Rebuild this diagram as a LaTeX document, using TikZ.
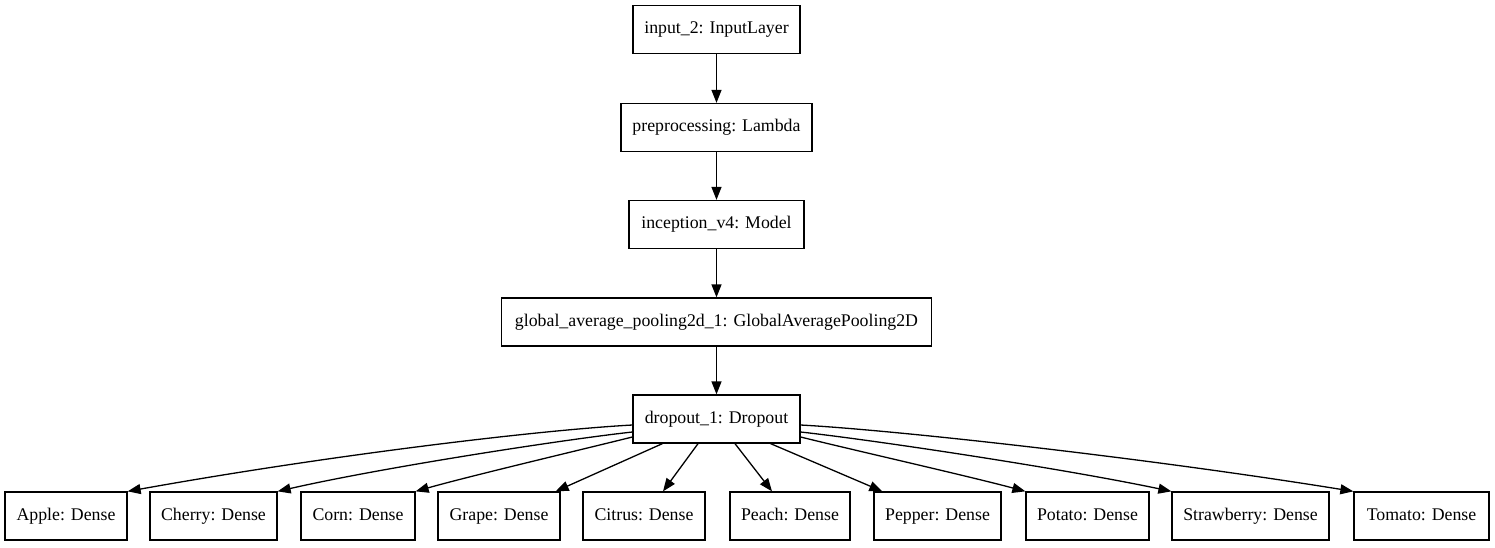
\documentclass[tikz,border=0pt]{standalone}
\usepackage{fontspec}
\setmainfont{Liberation Serif}
\usetikzlibrary{arrows.meta}
\begin{document}
\begin{tikzpicture}[x=1pt,y=-1pt,
  layer/.style={draw, line width=1.3pt, rectangle, minimum height=48pt, inner sep=0pt,
     text height=12.5pt, text depth=4pt,
     font=\fontsize{17.8}{20}\selectfont},
  conn/.style={line width=1.3pt, -{Triangle[length=13pt,width=10pt]}}]
\fill[white] (0,0) rectangle (1495,547);
\useasboundingbox (0,0) rectangle (1495,547);
\node[layer, minimum width=167pt] (inp) at (716.5,29.5) {input\_2: InputLayer};
\node[layer, minimum width=191pt] (pre) at (716.5,127.5) {preprocessing: Lambda};
\node[layer, minimum width=175pt] (inc) at (716.5,224.5) {inception\_v4: Model};
\node[layer, minimum width=430pt] (gap) at (716.5,322) {global\_average\_pooling2d\_1: GlobalAveragePooling2D};
\node[layer, minimum width=167pt] (drop) at (716.5,419) {dropout\_1: Dropout};
\node[layer, minimum width=122pt] (apple) at (66,516) {Apple: Dense};
\node[layer, minimum width=127pt] (cherry) at (213.5,516) {Cherry: Dense};
\node[layer, minimum width=114pt] (corn) at (358,516) {Corn: Dense};
\node[layer, minimum width=122pt] (grape) at (499,516) {Grape: Dense};
\node[layer, minimum width=122pt] (citrus) at (644,516) {Citrus: Dense};
\node[layer, minimum width=120pt] (peach) at (790,516) {Peach: Dense};
\node[layer, minimum width=127pt] (pepper) at (937.5,516) {Pepper: Dense};
\node[layer, minimum width=123pt] (potato) at (1087.5,516) {Potato: Dense};
\node[layer, minimum width=157pt] (straw) at (1250.5,516) {Strawberry: Dense};
\node[layer, minimum width=135pt] (tomato) at (1421.5,516) {Tomato: Dense};
\draw[conn] (inp) -- (pre);
\draw[conn] (pre) -- (inc);
\draw[conn] (inc) -- (gap);
\draw[conn] (gap) -- (drop);
\draw[conn] ([yshift=-6pt]drop.west) .. controls (540,430) and (330,455) .. (apple.north east);
\draw[conn] ([yshift=-13pt]drop.west) .. controls (560,440) and (380,468) .. (cherry.north east);
\draw[conn] ([yshift=-18pt]drop.west) .. controls (580,450) and (470,476) .. (corn.north east);
\draw[conn] ([xshift=30pt]drop.south west) -- ([xshift=-5pt]grape.north east);
\draw[conn] ([xshift=-18.5pt]drop.south) -- ([xshift=19pt]citrus.north);
\draw[conn] ([xshift=18.5pt]drop.south) -- ([xshift=-18pt]peach.north);
\draw[conn] ([xshift=-30pt]drop.south east) -- ([xshift=9pt]pepper.north west);
\draw[conn] ([yshift=-18pt]drop.east) .. controls (853,450) and (968,476) .. (potato.north west);
\draw[conn] ([yshift=-13pt]drop.east) .. controls (873,440) and (1060,468) .. (straw.north west);
\draw[conn] ([yshift=-6pt]drop.east) .. controls (893,430) and (1140,457) .. (tomato.north west);
\end{tikzpicture}
\end{document}
